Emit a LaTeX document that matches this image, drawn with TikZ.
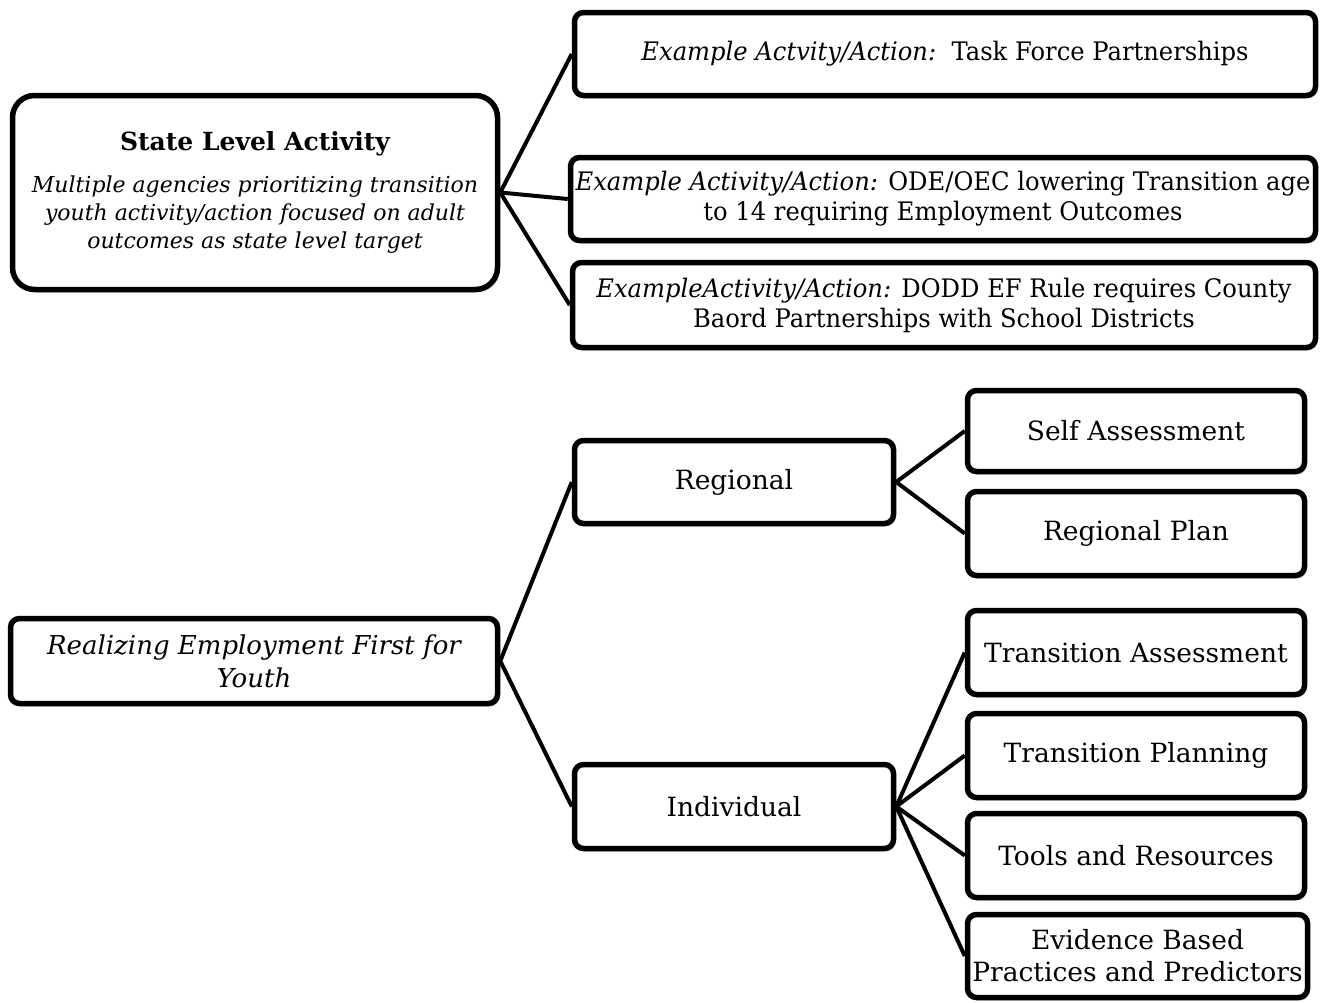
\documentclass[tikz,border=0pt]{standalone}
\usepackage{fontspec}
\setmainfont{DejaVu Serif}
\newfontfamily\condfont[FakeStretch=0.95]{DejaVu Serif}
\usetikzlibrary{shadows}
\begin{document}
\begin{tikzpicture}[x=1pt,y=-1pt,
  box/.style={draw=black, line width=5.5pt, rounded corners=9pt, fill=white, align=center, inner sep=0pt,
    drop shadow={opacity=0.3,shadow xshift=2pt,shadow yshift=-3pt}},
  lbl/.style={font=\fontsize{26.5}{30}\selectfont},
  exl/.style={font=\condfont\fontsize{25.5}{30}\selectfont},
  link/.style={line width=4pt}]
\useasboundingbox (0,0) rectangle (1320,1002);
\fill[white] (0,0) rectangle (1320,1002);
% top
\node[box, rounded corners=22pt, font=\fontsize{22}{28}\selectfont\itshape, minimum width=485pt, minimum height=194pt] (state) at (255,192.5)
  {\textbf{\upshape\fontsize{25}{30}\selectfont State Level Activity}\\[14pt]
   Multiple agencies prioritizing transition\\ youth activity/action focused on adult\\ outcomes as state level target};
\node[box, exl, minimum width=741pt, minimum height=83pt] (ex1) at (945,54)
  {\textit{Example Actvity/Action:}\ \ Task Force Partnerships};
\node[box, exl, minimum width=745pt, minimum height=83pt] (ex2) at (943,199)
  {\textit{Example Activity/Action:} ODE/OEC lowering Transition age\\ to 14 requiring Employment Outcomes};
\node[box, exl, minimum width=743pt, minimum height=85pt] (ex3) at (944,305)
  {\textit{ExampleActivity/Action:} DODD EF Rule requires County\\ Baord Partnerships with School Districts};
% bottom
\node[box, font=\fontsize{26}{33}\selectfont\itshape, minimum width=487pt, minimum height=85pt] (real) at (254,661)
  {Realizing Employment First for\\ Youth};
\node[box, lbl, minimum width=319pt, minimum height=83pt] (reg) at (734,482) {Regional};
\node[box, lbl, minimum width=319pt, minimum height=84pt] (ind) at (734,806.5) {Individual};
\node[box, lbl, minimum width=337pt, minimum height=81pt] (self) at (1136,431) {Self Assessment};
\node[box, lbl, minimum width=337pt, minimum height=84pt] (rplan) at (1136,533.5) {Regional Plan};
\node[box, lbl, minimum width=337pt, minimum height=84pt] (tass) at (1136,652.5) {Transition Assessment};
\node[box, lbl, minimum width=337pt, minimum height=84pt] (tplan) at (1136,755.5) {Transition Planning};
\node[box, lbl, minimum width=337pt, minimum height=84pt] (tools) at (1136,855.5) {Tools and Resources};
\node[box, font=\fontsize{26.5}{32}\selectfont, minimum width=340pt, minimum height=83pt] (ebp) at (1137.5,956) {Evidence Based\\ Practices and Predictors};
% connectors
\draw[link] (state.east) -- (ex1.west);
\draw[link] (state.east) -- (ex2.west);
\draw[link] (state.east) -- (ex3.west);
\draw[link] (real.east) -- (reg.west);
\draw[link] (real.east) -- (ind.west);
\draw[link] (reg.east) -- (self.west);
\draw[link] (reg.east) -- (rplan.west);
\draw[link] (ind.east) -- (tass.west);
\draw[link] (ind.east) -- (tplan.west);
\draw[link] (ind.east) -- (tools.west);
\draw[link] (ind.east) -- (ebp.west);
\end{tikzpicture}
\end{document}
